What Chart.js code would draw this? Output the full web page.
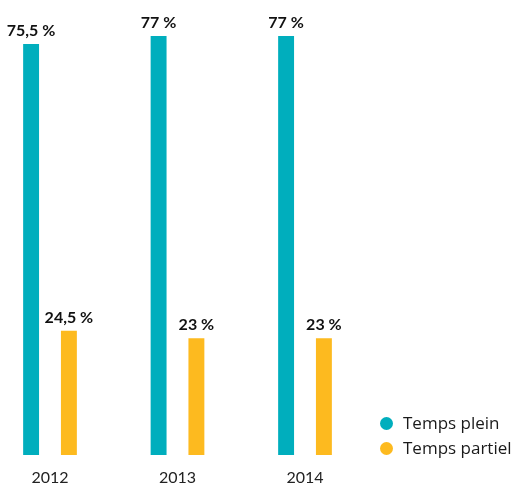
<!DOCTYPE html>
<html>
<head>
<meta charset="utf-8">
<script src="https://cdn.jsdelivr.net/npm/chart.js@4"></script>
<style>
  body { margin: 0; background: #fff; }
  #wrap { position: relative; width: 515px; height: 486px; }
  #legend { position: absolute; left: 380px; top: 411px; font-family: "Open Sans", sans-serif; font-size: 17px; color: #1a1a1a; }
  #legend div { height: 25px; line-height: 24px; white-space: nowrap; }
  #legend span.dot { display: inline-block; width: 13px; height: 13px; border-radius: 50%; margin-right: 10px; vertical-align: -1px; }
</style>
</head>
<body>
<div id="wrap">
  <canvas id="myChart" width="515" height="486"></canvas>
  <div id="legend"></div>
</div>
<script>
// données
const years = ['2012', '2013', '2014'];
const tempsPlein = [75.5, 77, 77];
const tempsPartiel = [24.5, 23, 23];
const seriesNames = ['Temps plein', 'Temps partiel'];
const colors = ['#00aebd', '#fdba1f'];

// étiquettes au-dessus des barres
const valueLabels = {
  id: 'valueLabels',
  afterDatasetsDraw(chart) {
    const ctx = chart.ctx;
    ctx.save();
    ctx.font = 'bold 16px Lato, sans-serif';
    ctx.fillStyle = '#111';
    ctx.textAlign = 'center';
    ctx.textBaseline = 'alphabetic';
    chart.data.datasets.forEach((ds, i) => {
      chart.getDatasetMeta(i).data.forEach((bar, j) => {
        const txt = String(ds.data[j]).replace('.', ',') + ' %';
        ctx.fillText(txt, bar.x, bar.y - 8);
      });
    });
    ctx.restore();
  }
};

new Chart(document.getElementById('myChart').getContext('2d'), {
  type: 'bar',
  data: {
    labels: years,
    datasets: [
      { label: seriesNames[0], data: tempsPlein, backgroundColor: colors[0], yAxisID: 'y', clip: false },
      { label: seriesNames[1], data: tempsPartiel, backgroundColor: colors[1], yAxisID: 'y2', clip: false }
    ]
  },
  options: {
    responsive: false,
    animation: false,
    categoryPercentage: 0.593,
    barPercentage: 0.421,
    layout: { padding: { left: 50, right: 210, top: 0, bottom: -15 } },
    plugins: { legend: { display: false }, tooltip: { enabled: false } },
    scales: {
      x: {
        offset: false,
        grid: { display: false, drawTicks: false },
        border: { display: false },
        ticks: { padding: 15, color: '#222', font: { family: 'Lato, sans-serif', size: 16, lineHeight: 1 } }
      },
      y: { display: false, min: 0, max: 83.6 },
      y2: { display: false, min: 0, max: 89.7 }
    }
  },
  plugins: [valueLabels]
});

// légende
const legend = document.getElementById('legend');
seriesNames.forEach((name, i) => {
  const row = document.createElement('div');
  row.innerHTML = '<span class="dot" style="background:' + colors[i] + '"></span>' + name;
  legend.appendChild(row);
});
</script>
</body>
</html>
